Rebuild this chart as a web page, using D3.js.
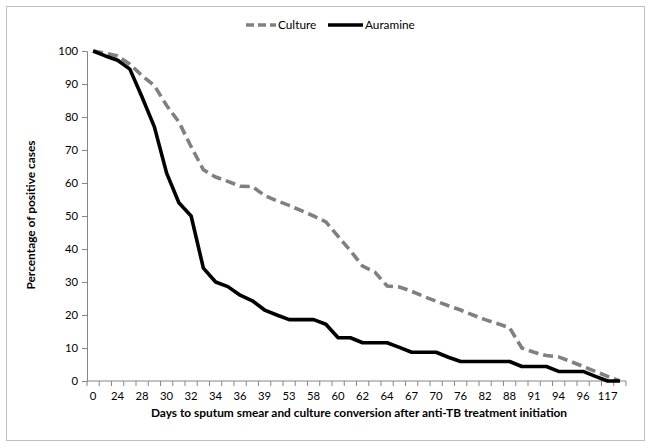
<!DOCTYPE html>
<html><head><meta charset="utf-8">
<script src="https://cdn.jsdelivr.net/npm/d3@7"></script>
<style>body{margin:0;background:#fff;} svg{display:block;font-family:Lato,"Open Sans",sans-serif;}</style>
</head><body>
<script>
// Day categories (44 points; only even positions are labelled in the reference)
const days = ["0","21","24","26","28","29","30","31","32","33","34","35","36","37","39","45","53","56","58","59","60","61","62","63","64","65","67","68","70","73","76","79","82","85","88","90","91","92","94","95","96","100","117","120"];
const culture = [100,99.3,98.5,96,92.5,89.5,83.5,78.5,71,64,61.8,60.5,59,58.9,56.2,54.6,53.2,51.6,50,48.2,43.8,39.5,34.8,33,28.8,28.5,27.2,25.6,24.2,22.8,21.5,20,18.6,17.4,16.1,10,8.7,7.7,7.3,5.9,4.4,2.9,1.4,0];
const auramine = [100,98.5,97.2,94.5,86,77,63,54,50,34.2,30,28.6,26,24.3,21.5,20,18.6,18.6,18.6,17.2,13.1,13.1,11.6,11.6,11.6,10.2,8.7,8.7,8.7,7.2,5.9,5.9,5.9,5.9,5.9,4.4,4.4,4.4,2.9,2.9,2.9,1.4,0,0];
const yTicks = [0,10,20,30,40,50,60,70,80,90,100];
const seriesNames = ["Culture","Auramine"];

const W=653,H=448;
const svg=d3.select("body").append("svg").attr("width",W).attr("height",H);
svg.append("rect").attr("x",6.5).attr("y",6.5).attr("width",638).attr("height",434)
  .attr("fill","#fff").attr("stroke","#bfbfbf").attr("stroke-width",1);

const m={l:87,r:626,t:51,b:381};
const x=d3.scaleBand().domain(d3.range(days.length)).range([m.l,m.r]);
const y=d3.scaleLinear().domain([0,100]).range([m.b,m.t]);
const axisColor="#868686";

// y axis
const ya=svg.append("g").attr("transform",`translate(${m.l},0)`)
  .call(d3.axisLeft(y).tickValues(yTicks).tickSize(5).tickPadding(4));
ya.select(".domain").attr("stroke",axisColor);
ya.selectAll(".tick line").attr("stroke",axisColor);
ya.selectAll(".tick text").attr("font-size",11.3).attr("fill","#000").attr("font-family","Lato");

// x axis with ticks between categories
const xg=svg.append("g").attr("transform",`translate(0,${m.b})`);
xg.append("line").attr("x1",m.l).attr("x2",m.r).attr("stroke",axisColor);
const bounds=d3.range(days.length+1).map(i=>m.l+i*x.step());
xg.selectAll("line.t").data(bounds).join("line").attr("class","t")
  .attr("x1",d=>d).attr("x2",d=>d).attr("y1",0).attr("y2",5).attr("stroke",axisColor);
xg.selectAll("text").data(days.map((d,i)=>({d,i})).filter(o=>o.i%2===0)).join("text")
  .attr("x",o=>x(o.i)+x.bandwidth()/2).attr("y",19).attr("text-anchor","middle")
  .attr("font-size",11.3).text(o=>o.d);

// lines
const line=d3.line().x((d,i)=>x(i)+x.bandwidth()/2).y(d=>y(d));
svg.append("path").datum(culture).attr("d",line).attr("fill","none")
  .attr("stroke","#808080").attr("stroke-width",3.6).attr("stroke-dasharray","10,5");
svg.append("path").datum(auramine).attr("d",line).attr("fill","none")
  .attr("stroke","#000").attr("stroke-width",3.6).attr("stroke-linejoin","round");

// titles
svg.append("text").attr("x",359).attr("y",417).attr("text-anchor","middle")
  .attr("font-size",11.9).attr("font-weight","bold")
  .text("Days to sputum smear and culture conversion after anti-TB treatment initiation");
svg.append("text").attr("transform","translate(35,215) rotate(-90)").attr("text-anchor","middle")
  .attr("font-size",11.9).attr("font-weight","bold").text("Percentage of positive cases");

// legend
const lg=svg.append("g");
lg.append("line").attr("x1",246).attr("x2",276).attr("y1",25).attr("y2",25)
  .attr("stroke","#808080").attr("stroke-width",3.6).attr("stroke-dasharray","8,4");
lg.append("text").attr("x",278).attr("y",29).attr("font-size",11.8).text(seriesNames[0]);
lg.append("line").attr("x1",328).attr("x2",363).attr("y1",25).attr("y2",25)
  .attr("stroke","#000").attr("stroke-width",3.6);
lg.append("text").attr("x",365).attr("y",29).attr("font-size",11.8).text(seriesNames[1]);
</script>
</body></html>
